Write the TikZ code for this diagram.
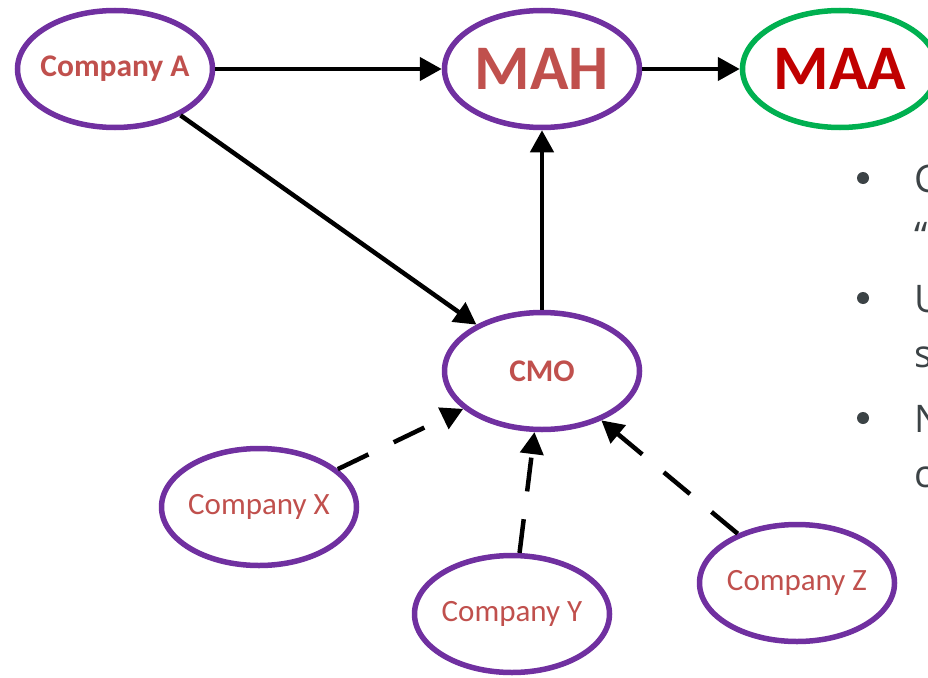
\documentclass[tikz,border=0pt]{standalone}
\usepackage{fontspec}
\setmainfont{Carlito}
\newfontfamily\bodyfont{Open Sans}
\usetikzlibrary{shapes.geometric,arrows.meta}
\definecolor{ovpurple}{HTML}{7030A0}
\definecolor{ovgreen}{HTML}{00B050}
\definecolor{txred}{HTML}{C0504D}
\definecolor{txdark}{HTML}{C00000}
\definecolor{txgray}{HTML}{3C4346}
\newcommand{\zw}[1]{\makebox[0pt]{#1}}
\tikzset{
  oval/.style={ellipse, draw=ovpurple, line width=5.5pt, inner sep=0pt,
    minimum width=195pt, minimum height=117pt, text=txred},
  greenoval/.style={oval, draw=ovgreen, text=txdark},
  conn/.style={line width=4.5pt, -{Triangle[length=22pt,width=23pt]}},
  dconn/.style={conn, dash pattern=on 34pt off 28pt},
  bigtxt/.style={font=\fontsize{63.5}{70}\selectfont\bfseries},
  boldtxt/.style={font=\fontsize{31.5}{36}\selectfont\bfseries},
  regtxt/.style={font=\fontsize{31}{36}\selectfont},
  sidetxt/.style={font=\bodyfont\fontsize{38}{44}\selectfont, text=txgray, inner sep=0pt, anchor=base west},
  bulletdot/.style={circle, fill=txgray, inner sep=0pt, minimum size=12pt},
}
\begin{document}
\begin{tikzpicture}[x=1pt,y=-1pt]
\useasboundingbox (0,0) rectangle (928,677);
\begin{scope}
\clip (0,0) rectangle (928,677);
\node[oval, boldtxt] (A) at (115,69) {\zw{Company A}};
\node[oval, bigtxt] (MAH) at (542,69) {\zw{MAH}};
\node[greenoval, bigtxt] (MAA) at (840,69) {\zw{MAA}};
\node[oval, boldtxt] (CMO) at (542,371) {\zw{CMO}};
\node[oval, regtxt] (X) at (259,507) {\zw{Company X}};
\node[oval, regtxt] (Y) at (512,614) {\zw{Company Y}};
\node[oval, regtxt] (Z) at (797,583) {\zw{Company Z}};

\draw[conn] (A) -- (MAH);
\draw[conn] (MAH) -- (MAA);
\draw[conn] (A) -- (CMO);
\draw[conn] (CMO) -- (MAH);
\draw[dconn] (X) -- (CMO);
\draw[dconn] (Y) -- (CMO);
\draw[dconn] (Z) -- (CMO);

\node[bulletdot] (b1) at (863,178) {};
\node[sidetxt] (t1) at (914,192) {C};
\node[sidetxt] (t2) at (914,249) {“};
\node[bulletdot] (b2) at (863,298) {};
\node[sidetxt] (t3) at (914,312) {U};
\node[sidetxt] (t4) at (914,367) {s};
\node[bulletdot] (b3) at (863,418) {};
\node[sidetxt] (t5) at (914,432) {N};
\node[sidetxt] (t6) at (914,487) {c};
\end{scope}
\end{tikzpicture}
\end{document}
